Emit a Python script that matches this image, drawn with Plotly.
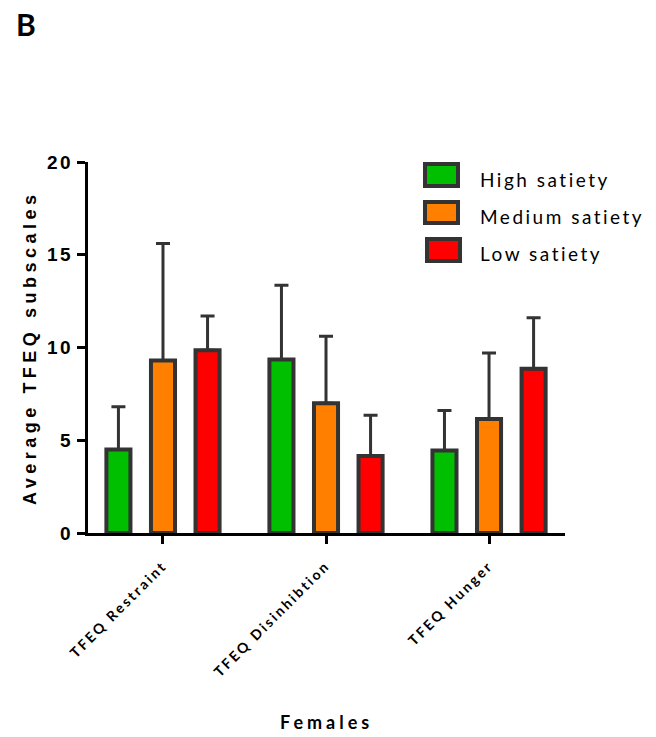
import plotly.graph_objects as go

categories = ["TFEQ Restraint", "TFEQ Disinhibtion", "TFEQ Hunger"]
series_names = ["High satiety", "Medium satiety", "Low satiety"]
high_vals = [4.5, 9.35, 4.45]
medium_vals = [9.3, 7.0, 6.15]
low_vals = [9.85, 4.15, 8.85]
high_err = [2.3, 4.0, 2.15]
medium_err = [6.3, 3.6, 3.55]
low_err = [1.85, 2.2, 2.75]
colors = ["#00BE00", "#FF8000", "#FF0000"]
y_ticks = [0, 5, 10, 15, 20]

values = [high_vals, medium_vals, low_vals]
errors = [high_err, medium_err, low_err]

EDGE = "#333333"
fig = go.Figure()
for name, v, e, c in zip(series_names, values, errors, colors):
    fig.add_trace(go.Bar(
        x=categories, y=v, name=name, showlegend=False,
        marker=dict(color=c, line=dict(color=EDGE, width=4)),
        error_y=dict(type="data", symmetric=False, array=e, arrayminus=[0]*len(e),
                     color=EDGE, thickness=3, width=7),
    ))

# legend drawn as swatches + labels
leg_y = [(0.9946, 0.9353, 0.9515), (0.8922, 0.8356, 0.8518), (0.7925, 0.7332, 0.7547)]
leg_x = [(0.7065, 0.7757), (0.7065, 0.7757), (0.7107, 0.7799)]
shapes = []
annotations = []
for (y0, y1, yc), (x0, x1), c, name in zip(leg_y, leg_x, colors, series_names):
    shapes.append(dict(type="rect", xref="paper", yref="paper", x0=x0, x1=x1, y0=y1, y1=y0,
                       fillcolor=c, line=dict(color=EDGE, width=4)))
    annotations.append(dict(text=name, xref="paper", yref="paper", x=0.8176, y=yc,
                            xanchor="left", yanchor="middle", align="left", showarrow=False,
                            font=dict(family="Lato", size=19, color="black")))

annotations.append(dict(text="<b>Average TFEQ subscales</b>", xref="paper", yref="paper",
                        x=-0.1216, y=0.5, xanchor="center", yanchor="middle", textangle=-90,
                        showarrow=False, font=dict(family="Liberation Sans", size=18, color="black")))
annotations.append(dict(text="<b>Females</b>", xref="paper", yref="paper",
                        x=0.5, y=-0.509, xanchor="center", yanchor="middle",
                        showarrow=False, font=dict(family="Lato", size=18, color="black")))
annotations.append(dict(text="<b>B</b>", xref="paper", yref="paper",
                        x=-0.155, y=1.372, xanchor="left", yanchor="middle",
                        showarrow=False, font=dict(family="Lato", size=30, color="black")))

fig.update_layout(
    width=656, height=737,
    margin=dict(l=88, r=91, t=162, b=204),
    plot_bgcolor="white", paper_bgcolor="white",
    barmode="group", bargap=0.18, bargroupgap=0.46,
    showlegend=False,
    shapes=shapes, annotations=annotations,
    xaxis=dict(range=[-0.46, 2.466], showline=True, linecolor="black", linewidth=3,
               ticks="outside", ticklen=8, tickwidth=3, tickcolor="black",
               tickangle=-45, showgrid=False, zeroline=False, ticklabelstandoff=8,
               tickfont=dict(family="Lato", size=14, color="black", weight="bold")),
    yaxis=dict(range=[0, 20], tickvals=y_ticks, showline=True, linecolor="black", linewidth=3,
               ticks="outside", ticklen=8, tickwidth=3, tickcolor="black",
               showgrid=False, zeroline=False,
               tickfont=dict(family="Liberation Sans", size=19, color="black", weight="bold")),
    font=dict(family="Lato"),
)

post = """
document.body.style.margin = '0';
document.body.style.padding = '0';
var gd = document.getElementById('{plot_id}');
function sp(){
  gd.querySelectorAll('g.xtick text').forEach(function(t){t.style.letterSpacing='2.5px';});
  gd.querySelectorAll('g.ytick text').forEach(function(t){t.style.letterSpacing='2.5px';});
  gd.querySelectorAll('g.annotation text').forEach(function(t){
    var s = t.textContent;
    if (s === 'B') return;
    if (s === 'Average TFEQ subscales') t.style.letterSpacing='4.5px';
    else if (s === 'Females') t.style.letterSpacing='4px';
    else t.style.letterSpacing='2.5px';
  });
}
sp();
gd.on('plotly_afterplot', sp);
"""
fig.write_html("out.html", post_script=post, config={"displayModeBar": False})
